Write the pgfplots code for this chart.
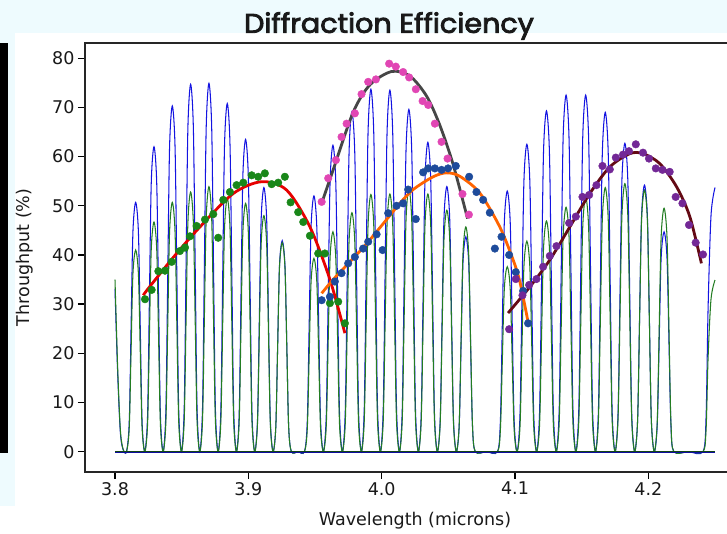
\documentclass[border=0pt]{standalone}
\usepackage{fontspec}
\usepackage{graphicx}
\setmainfont{DejaVu Sans}
\newfontfamily\titlefont{Poppins}[FakeBold=3]
\usepackage{pgfplots}
\pgfplotsset{compat=1.18}
\usepackage{pgfplotstable}

\definecolor{bgcyan}{RGB}{238,251,254}
\definecolor{curveblue}{RGB}{20,20,225}
\definecolor{curvegreen}{RGB}{35,125,35}
\definecolor{dotgreen}{RGB}{25,135,25}
\definecolor{dotpink}{RGB}{225,70,180}
\definecolor{dotnavy}{RGB}{30,75,155}
\definecolor{dotpurple}{RGB}{115,40,150}
\definecolor{fitred}{RGB}{230,0,0}
\definecolor{fitorange}{RGB}{255,100,0}
\definecolor{fitgray}{RGB}{70,70,70}
\definecolor{fitmaroon}{RGB}{100,10,20}

\pgfplotstableread{
x b g
3.80000 33.0 35.0
3.80200 16.0 17.0
3.80400 4.0 4.5
3.80600 0.5 0.6
3.80863 0 0
3.81069 6.08 4.92
3.81206 25.35 20.5
3.81344 44.62 36.08
3.81550 50.7 41.0
3.81756 44.62 36.08
3.81894 25.35 20.5
3.82031 6.08 4.92
3.82237 0 0
3.82443 7.44 5.6
3.82580 31.0 23.35
3.82718 54.56 41.1
3.82924 62.0 46.7
3.83130 54.56 41.1
3.83268 31.0 23.35
3.83405 7.44 5.6
3.83611 0 0
3.83817 8.44 6.08
3.83954 35.15 25.35
3.84092 61.86 44.62
3.84298 70.3 50.7
3.84504 61.86 44.62
3.84642 35.15 25.35
3.84779 8.44 6.08
3.84985 0 0
3.85191 8.96 6.34
3.85328 37.35 26.4
3.85466 65.74 46.46
3.85672 74.7 52.8
3.85878 65.74 46.46
3.86016 37.35 26.4
3.86153 8.96 6.34
3.86359 0 0
3.86565 8.99 6.47
3.86702 37.45 26.95
3.86840 65.91 47.43
3.87046 74.9 53.9
3.87252 65.91 47.43
3.87390 37.45 26.95
3.87527 8.99 6.47
3.87733 0 0
3.87939 8.50 6.18
3.88076 35.4 25.75
3.88214 62.3 45.32
3.88420 70.8 51.5
3.88626 62.3 45.32
3.88764 35.4 25.75
3.88901 8.50 6.18
3.89107 0 0
3.89313 7.62 6.06
3.89450 31.75 25.25
3.89588 55.88 44.44
3.89794 63.5 50.5
3.90000 55.88 44.44
3.90138 31.75 25.25
3.90275 7.62 6.06
3.90481 0 0
3.90687 6.44 5.76
3.90824 26.85 24.0
3.90962 47.26 42.24
3.91168 53.7 48.0
3.91374 47.26 42.24
3.91512 26.85 24.0
3.91649 6.44 5.76
3.91855 0 0
3.92061 5.15 5.1
3.92198 21.45 21.25
3.92336 37.75 37.4
3.92542 42.9 42.5
3.92748 37.75 37.4
3.92886 21.45 21.25
3.93023 5.15 5.1
3.93229 0 0
3.93720 0 0
3.94208 0 0
3.94422 6.24 4.72
3.94564 26.0 19.65
3.94706 45.76 34.58
3.94920 52.0 39.3
3.95134 45.76 34.58
3.95276 26.0 19.65
3.95418 6.24 4.72
3.95632 0 0
3.95846 7.48 5.36
3.95988 31.15 22.35
3.96130 54.82 39.34
3.96344 62.3 44.7
3.96558 54.82 39.34
3.96700 31.15 22.35
3.96842 7.48 5.36
3.97056 0 0
3.97270 8.29 5.83
3.97412 34.55 24.3
3.97554 60.81 42.77
3.97768 69.1 48.6
3.97982 60.81 42.77
3.98124 34.55 24.3
3.98266 8.29 5.83
3.98480 0 0
3.98694 8.84 6.28
3.98836 36.85 26.15
3.98978 64.86 46.02
3.99192 73.7 52.3
3.99406 64.86 46.02
3.99548 36.85 26.15
3.99690 8.84 6.28
3.99904 0 0
4.00118 8.82 6.29
4.00260 36.75 26.2
4.00402 64.68 46.11
4.00616 73.5 52.4
4.00830 64.68 46.11
4.00972 36.75 26.2
4.01114 8.82 6.29
4.01328 0 0
4.01542 8.35 6.42
4.01684 34.8 26.75
4.01826 61.25 47.08
4.02040 69.6 53.5
4.02254 61.25 47.08
4.02396 34.8 26.75
4.02538 8.35 6.42
4.02752 0 0
4.02966 7.55 6.29
4.03108 31.45 26.2
4.03250 55.35 46.11
4.03464 62.9 52.4
4.03678 55.35 46.11
4.03820 31.45 26.2
4.03962 7.55 6.29
4.04176 0 0
4.04390 6.47 5.89
4.04532 26.95 24.55
4.04674 47.43 43.21
4.04888 53.9 49.1
4.05102 47.43 43.21
4.05244 26.95 24.55
4.05386 6.47 5.89
4.05600 0 0
4.05814 5.24 5.48
4.05956 21.85 22.85
4.06098 38.46 40.22
4.06312 43.7 45.7
4.06526 38.46 40.22
4.06668 21.85 22.85
4.06810 5.24 5.48
4.07024 0 0
4.07850 0 0
4.08685 0 0
4.08905 6.36 4.51
4.09052 26.5 18.8
4.09199 46.64 33.09
4.09420 53.0 37.6
4.09641 46.64 33.09
4.09788 26.5 18.8
4.09935 6.36 4.51
4.10155 0 0
4.10375 7.5 5.14
4.10522 31.25 21.4
4.10669 55.0 37.66
4.10890 62.5 42.8
4.11111 55.0 37.66
4.11258 31.25 21.4
4.11405 7.5 5.14
4.11625 0 0
4.11845 8.32 5.63
4.11992 34.65 23.45
4.12139 60.98 41.27
4.12360 69.3 46.9
4.12581 60.98 41.27
4.12728 34.65 23.45
4.12875 8.32 5.63
4.13095 0 0
4.13315 8.7 5.96
4.13462 36.25 24.85
4.13609 63.8 43.74
4.13830 72.5 49.7
4.14051 63.8 43.74
4.14198 36.25 24.85
4.14345 8.7 5.96
4.14565 0 0
4.14785 8.7 6.22
4.14932 36.25 25.9
4.15079 63.8 45.58
4.15300 72.5 51.8
4.15521 63.8 45.58
4.15668 36.25 25.9
4.15815 8.7 6.22
4.16035 0 0
4.16255 8.28 6.44
4.16402 34.5 26.85
4.16549 60.72 47.26
4.16770 69.0 53.7
4.16991 60.72 47.26
4.17138 34.5 26.85
4.17285 8.28 6.44
4.17505 0 0
4.17725 7.52 6.54
4.17872 31.35 27.25
4.18019 55.18 47.96
4.18240 62.7 54.5
4.18461 55.18 47.96
4.18608 31.35 27.25
4.18755 7.52 6.54
4.18975 0 0
4.19195 6.5 6.38
4.19342 27.1 26.6
4.19489 47.7 46.82
4.19710 54.2 53.2
4.19931 47.7 46.82
4.20078 27.1 26.6
4.20225 6.5 6.38
4.20445 0 0
4.20665 5.36 5.94
4.20812 22.35 24.75
4.20959 39.34 43.56
4.21180 44.7 49.5
4.21401 39.34 43.56
4.21548 22.35 24.75
4.21695 5.36 5.94
4.21915 0 0
4.23000 0 0
4.24100 0 0
4.24330 7.0 4.5
4.24480 29.0 19.0
4.24700 48.0 31.0
4.25000 53.7 34.9
}\osc

\begin{document}
\begin{tikzpicture}
\useasboundingbox (0,0) rectangle (727pt,533pt);
\clip (0,0) rectangle (727pt,533pt);
\fill[bgcyan] (0,0) rectangle (727pt,533pt);
\fill[white] (15pt,0) rectangle (727pt,500pt);
\fill[white] (0,0) rectangle (15pt,27pt);
\fill[black] (0,80pt) rectangle (8pt,490pt);
\node[font=\titlefont\fontsize{27}{30}\selectfont, text=black!90] at (389pt,507pt) {\scalebox{1.06}[1]{Diffraction Efficiency}};
\begin{axis}[
  at={(85pt,61.3pt)}, anchor=south west,
  width=660pt, height=428.7pt, scale only axis,
  xmin=3.7775, xmax=4.2725, ymin=-4.07, ymax=83.1,
  xtick={3.8,3.9,4.0,4.1,4.2},
  ytick={0,10,20,30,40,50,60,70,80},
  tick align=outside, xtick pos=bottom, ytick pos=left,
  major tick length=7pt,
  tick style={line width=1.3pt, black},
  axis line style={line width=1.7pt, black!85},
  /pgf/number format/assume math mode=true,
  xticklabel style={/pgf/number format/.cd, fixed, fixed zerofill, precision=1, assume math mode=true},
  tick label style={font=\fontsize{17.5}{20}\selectfont, text=black!90},
  label style={font=\fontsize{17.5}{20}\selectfont, text=black!90},
  xlabel={Wavelength (microns)},
  ylabel={Throughput (\%)},
  xlabel style={at={(axis description cs:0.5,-0.115)}, anchor=center},
  ylabel style={at={(axis description cs:-0.0909,0.5)}, anchor=center},
]
\addplot[curveblue, line width=1.05pt, smooth] table[x=x,y=b]{\osc};
\addplot[curvegreen, line width=1.05pt, smooth] table[x=x,y=g]{\osc};
\addplot[curveblue!70!black, line width=1.8pt] coordinates {(3.8,0) (4.25,0)};
\addplot[curvegreen!55!black, line width=1.5pt] coordinates {(3.8,0) (4.25,0)};

% green dots
\addplot[only marks, mark=*, mark size=3.8pt, color=dotgreen] coordinates {
(3.8225,31.0) (3.8275,32.9) (3.8325,36.7) (3.8375,36.8) (3.8425,38.6) (3.8487,40.8)
(3.8525,41.5) (3.8562,43.8) (3.8612,45.9) (3.8675,47.2) (3.8737,48.3) (3.8774,43.5)
(3.8812,51.2) (3.8862,52.8) (3.8912,54.2) (3.8962,54.7) (3.9025,56.2) (3.9074,55.9)
(3.9124,56.6) (3.9175,54.4) (3.9224,54.7) (3.9274,55.9) (3.9317,50.7) (3.9374,48.7)
(3.9412,46.7) (3.9462,43.9) (3.9524,40.3) (3.9574,40.3) (3.9612,30.2) (3.9674,30.5)
(3.9724,26.1)};
% pink dots
\addplot[only marks, mark=*, mark size=3.8pt, color=dotpink] coordinates {
(3.9550,50.8) (3.9599,55.6) (3.9657,59.3) (3.9699,64.0) (3.9737,66.7) (3.9799,68.8)
(3.9849,72.7) (3.9899,75.2) (3.9957,75.7) (4.0056,78.9) (4.0106,78.3) (4.0161,77.2)
(4.0206,76.1) (4.0256,73.7) (4.0307,71.3) (4.0349,70.5) (4.0399,66.7) (4.0449,63.0)
(4.0494,59.6) (4.0606,52.4) (4.0654,48.2)};
% navy dots
\addplot[only marks, mark=*, mark size=3.8pt, color=dotnavy] coordinates {
(3.9550,30.8) (3.9612,31.5) (3.9649,34.6) (3.9699,36.3) (3.9749,38.3) (3.9799,39.6)
(3.9861,41.3) (3.9899,42.7) (3.9962,44.2) (4.0007,41.0) (4.0049,48.5) (4.0112,50.0)
(4.0161,50.5) (4.0199,53.3) (4.0256,47.3) (4.0311,56.8) (4.0349,57.6) (4.0399,57.6)
(4.0449,57.3) (4.0498,57.6) (4.0556,58.1) (4.0656,55.9) (4.0711,52.8) (4.0761,51.2)
(4.0811,48.6) (4.0849,41.3) (4.0899,43.7) (4.0956,40.0) (4.1006,36.5) (4.1061,32.7)
(4.1098,26.1)};
% purple dots
\addplot[only marks, mark=*, mark size=3.8pt, color=dotpurple] coordinates {
(4.0956,24.9) (4.1006,35.1) (4.1056,31.8) (4.1106,33.9) (4.1161,35.1) (4.1211,37.6)
(4.1261,39.8) (4.1311,41.8) (4.1406,46.5) (4.1456,47.8) (4.1506,51.8) (4.1556,52.2)
(4.1611,54.2) (4.1656,58.1) (4.1711,57.4) (4.1756,59.8) (4.1810,60.4) (4.1855,61.1)
(4.1906,62.5) (4.1960,60.8) (4.2005,59.6) (4.2056,57.6) (4.2106,57.3) (4.2160,56.9)
(4.2205,51.8) (4.2256,50.5) (4.2305,46.1) (4.2355,42.5) (4.2410,40.1)};

\addplot[fitred, line width=2.8pt, smooth] coordinates {
(3.8212,31.8) (3.8250,33.2) (3.8440,39.6) (3.8637,45.7) (3.8887,52.5) (3.9100,54.9)
(3.9287,53.2) (3.9462,45.7) (3.9612,35.0) (3.9724,24.1)};
\addplot[fitgray, line width=2.8pt, smooth] coordinates {
(3.9550,50.5) (3.9636,57.3) (3.9786,69.0) (3.9912,74.6) (4.0074,77.3) (4.0211,76.4)
(4.0337,72.3) (4.0436,66.4) (4.0536,58.4) (4.0644,47.4)};
\addplot[fitorange, line width=2.8pt, smooth] coordinates {
(3.9550,32.2) (3.9636,35.0) (3.9786,39.3) (3.9887,42.3) (4.0049,47.6) (4.0136,50.5)
(4.0236,53.3) (4.0386,55.9) (4.0486,56.7) (4.0586,56.0) (4.0736,52.6) (4.0886,45.7)
(4.0986,39.0) (4.1036,34.6) (4.1098,26.4)};
\addplot[fitmaroon, line width=2.8pt, smooth] coordinates {
(4.0948,28.2) (4.1111,33.5) (4.1261,39.0) (4.1411,45.7) (4.1561,52.5) (4.1711,57.9)
(4.1861,60.6) (4.1960,60.6) (4.2085,58.6) (4.2211,53.9) (4.2311,47.8) (4.2398,38.3)};
\end{axis}
\end{tikzpicture}
\end{document}
